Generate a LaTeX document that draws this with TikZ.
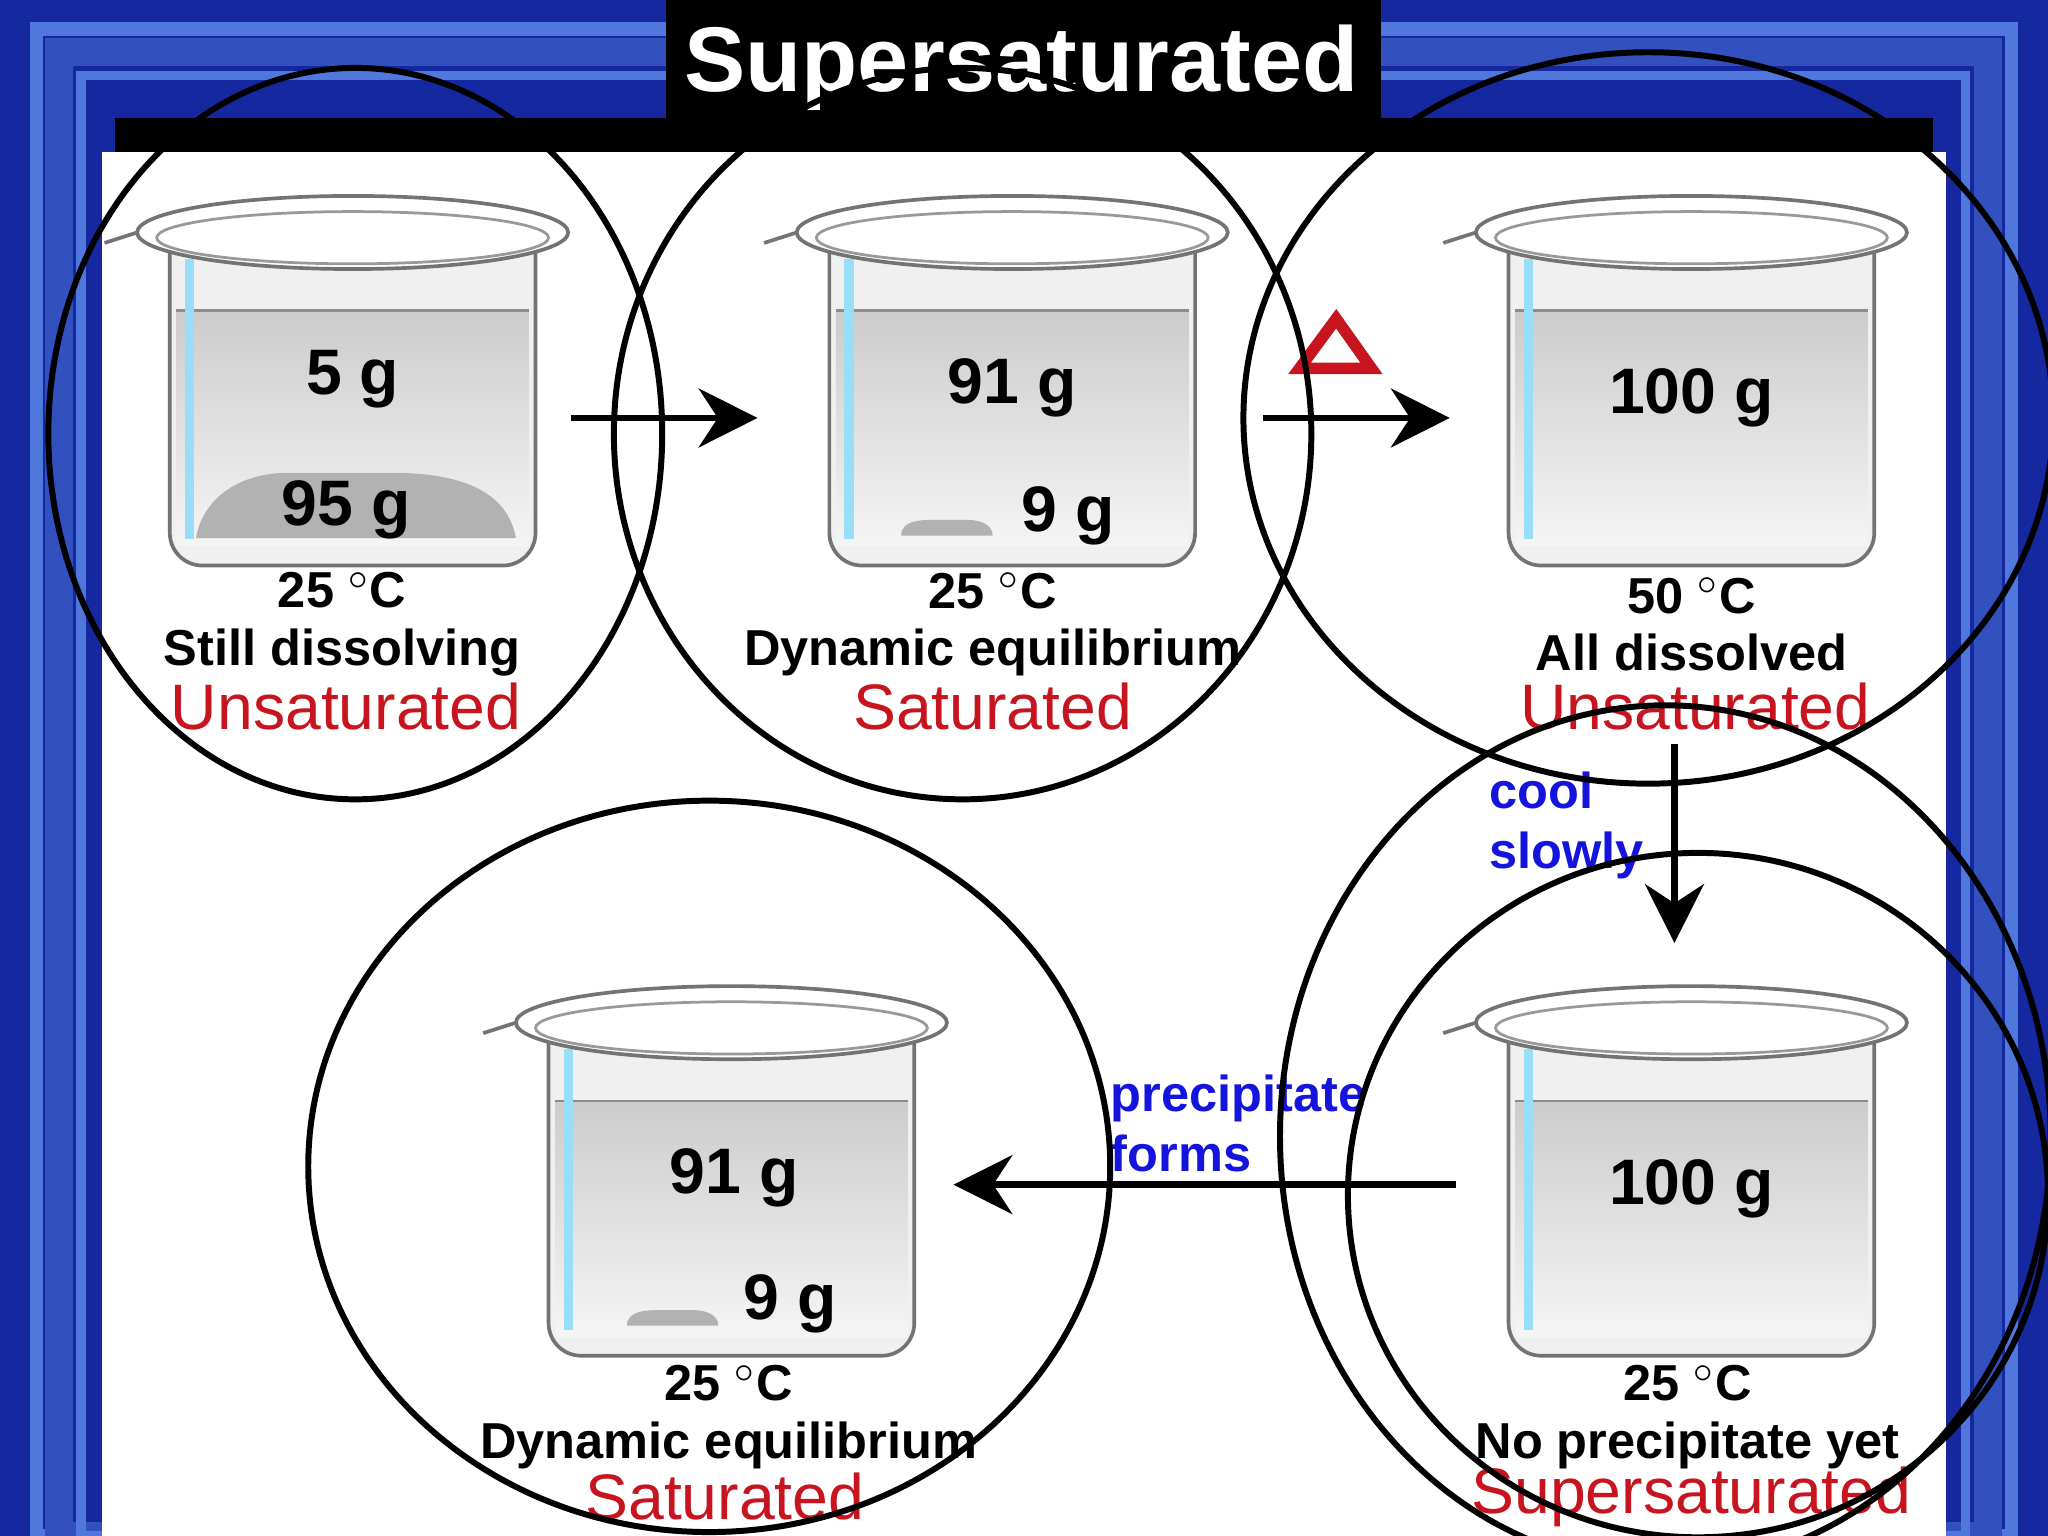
\documentclass[tikz,border=0pt]{standalone}
\usepackage{fontspec}
\setmainfont{Liberation Sans}
\usetikzlibrary{arrows.meta}
\definecolor{bgblue}{RGB}{22,40,160}
\definecolor{midblue}{RGB}{50,80,190}
\definecolor{litblue}{RGB}{80,120,220}
\definecolor{lblred}{RGB}{200,20,30}
\definecolor{lblblue}{RGB}{20,20,220}
\tikzset{
 ring/.style={draw=black,line width=1.3pt},
 flow/.style={draw=black,line width=1.5pt,-{Stealth[length=0.45cm,width=0.45cm]}},
 amt/.style={font=\fontsize{14}{14}\selectfont\bfseries},
 info/.style={font=\fontsize{11}{12.5}\selectfont\bfseries,align=center},
 state/.style={font=\fontsize{14}{14}\selectfont,text=lblred},
 note/.style={font=\fontsize{11}{11}\selectfont\bfseries,text=lblblue,align=left},
}
\newcommand\mybeaker[2]{%
 \fill[black!6] (#1-140,#2) -- (#1-140,#2+230) to[out=-90,in=180] (#1-115,#2+255) -- (#1+115,#2+255) to[out=0,in=-90] (#1+140,#2+230) -- (#1+140,#2) -- cycle;
 \shade[top color=black!20,bottom color=black!4] (#1-135,#2+60) rectangle (#1+135,#2+240);
 \draw[black!55,line width=0.8pt] (#1-140,#2) -- (#1-140,#2+230) to[out=-90,in=180] (#1-115,#2+255) -- (#1+115,#2+255) to[out=0,in=-90] (#1+140,#2+230) -- (#1+140,#2);
 \draw[black!45,line width=0.6pt] (#1-135,#2+60) -- (#1+135,#2+60);
 \draw[cyan!40,line width=2pt] (#1-125,#2+20) -- (#1-125,#2+235);
 \draw[black!55,line width=0.8pt,fill=white] (#1,#2) ellipse (165 and 28);
 \draw[black!40,line width=0.6pt] (#1,#2+4) ellipse (150 and 20);
 \draw[black!55,line width=0.8pt] (#1-165,#2) -- (#1-190,#2+8);
}
\begin{document}
\begin{tikzpicture}[x=0.01cm,y=-0.01cm]
\useasboundingbox (0,0) rectangle (1568,1176);
\fill[bgblue] (0,0) rectangle (1568,1176);
\draw[litblue,line width=3pt] (28,22) rectangle (1540,1176);
\draw[midblue,line width=6pt] (45,40) rectangle (1522,1176);
\draw[litblue,line width=2pt] (62,58) rectangle (1505,1176);
\fill[black] (88,90) rectangle (1480,116);
\fill[white] (78,116) rectangle (1490,1176);
\fill[black] (510,0) rectangle (1057,98);
\node[text=white,font=\fontsize{20}{20}\selectfont\bfseries] (title) at (782,52) {Supersaturated};
% beakers
\mybeaker{270}{178}
\mybeaker{775}{178}
\mybeaker{1295}{178}
\mybeaker{560}{783}
\mybeaker{1295}{783}
% solids
\fill[black!30] (150,412) to[out=80,in=180] (220,362) -- (300,362) to[out=0,in=100] (395,412) -- cycle;
\fill[black!30] (690,410) to[out=90,in=180] (720,398) -- (740,398) to[out=0,in=90] (760,410) -- cycle;
\fill[black!30] (480,1015) to[out=90,in=180] (510,1003) -- (530,1003) to[out=0,in=90] (550,1015) -- cycle;
% amounts
\node[amt] (a1) at (270,290) {5 g};
\node[amt] (b1) at (265,390) {95 g};
\node[amt] (a2) at (775,297) {91 g};
\node[amt] (b2) at (818,395) {9 g};
\node[amt] (a3) at (1295,305) {100 g};
\node[amt] (a4) at (562,902) {91 g};
\node[amt] (b4) at (605,998) {9 g};
\node[amt] (a5) at (1295,910) {100 g};
% captions
\node[info] (c1) at (262,478) {25 $^{\circ}$C\\Still dissolving};
\node[state] (s1) at (265,541) {Unsaturated};
\node[info] (c2) at (760,478) {25 $^{\circ}$C\\Dynamic equilibrium};
\node[state] (s2) at (760,541) {Saturated};
\node[info] (c3) at (1295,478) {50 $^{\circ}$C\\All dissolved};
\node[state] (s3) at (1298,541) {Unsaturated};
\node[info] (c4) at (558,1085) {25 $^{\circ}$C\\Dynamic equilibrium};
\node[state] (s4) at (555,1146) {Saturated};
\node[info] (c5) at (1292,1085) {25 $^{\circ}$C\\No precipitate yet};
\node[state] (s5) at (1295,1146) {Supersaturated};
% delta
\draw[lblred,line width=2.5pt] (995,282) -- (1023,244) -- (1050,282) -- cycle;
% arrows
\coordinate (p1) at (437,320); \coordinate (q1) at (580,320);
\coordinate (p2) at (967,320); \coordinate (q2) at (1110,320);
\coordinate (p3) at (1282,570); \coordinate (q3) at (1282,722);
\coordinate (p4) at (1115,907); \coordinate (q4) at (730,907);
\draw[flow] (p1) -- (q1);
\draw[flow] (p2) -- (q2);
\draw[flow] (p3) -- (q3);
\draw[flow] (p4) -- (q4);
\node[note,anchor=west] (n1) at (1128,632) {cool\\[2pt]slowly};
\node[note,anchor=west] (n2) at (838,860) {precipitate\\[2pt]forms};
% circles
\draw[ring] (272,332) ellipse (235 and 280);
\draw[ring] (737,332) ellipse (267 and 280);
\draw[ring] (1262,320) ellipse (310 and 280);
\draw[ring] (1275,870) ellipse (295 and 330);
\draw[ring] (1300,915) ellipse (268 and 262);
\draw[ring] (543,893) ellipse (307 and 280);
\end{tikzpicture}
\end{document}
